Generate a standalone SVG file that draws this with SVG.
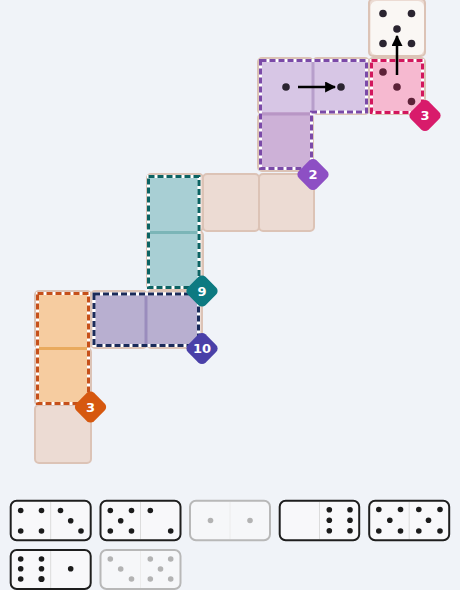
<svg xmlns="http://www.w3.org/2000/svg" width="460" height="590" viewBox="0 0 460 590">
<defs>
<style>
.cell{fill:#ecdbd3;stroke:#dcc3b6;stroke-width:2}
.wh{fill:none;stroke:#ffffff;stroke-width:3}
.pip{fill:#2a2430}
.tp{fill:#1c1c1c}
.fp{fill:#b3b3b3}
.dom{fill:#f8f8fa;stroke:#1e1e1e;stroke-width:2}
.fdom{fill:#f6f7f9;stroke:#b8b8b8;stroke-width:2}
.mid{stroke:#dcdcdc;stroke-width:1}
.badge text{font-family:"DejaVu Sans",Verdana,sans-serif;font-weight:bold;font-size:13px;fill:#ffffff;text-anchor:middle}
.arr{stroke:#000;stroke-width:2.5;fill:none}
.dash{fill:none;stroke-width:3;stroke-dasharray:6 3}
</style>
<marker id="ah" viewBox="0 0 10 10" refX="9" refY="5" markerWidth="4.4" markerHeight="4.4" orient="auto" markerUnits="strokeWidth">
<path d="M0,0 L10,5 L0,10 Z" fill="#000"/>
</marker>
</defs>
<rect width="460" height="590" fill="#f0f3f8"/>

<g id="board">
<rect class="cell" x="369" y="-1" width="56" height="57" rx="4"/>
<rect class="cell" x="258" y="58" width="55" height="56" rx="4"/>
<rect class="cell" x="313" y="58" width="56" height="56" rx="4"/>
<rect class="cell" x="369" y="58" width="56" height="56" rx="4"/>
<rect class="cell" x="258" y="114" width="55" height="57" rx="4"/>
<rect class="cell" x="147" y="174" width="56" height="57" rx="4"/>
<rect class="cell" x="203" y="174" width="56" height="57" rx="4"/>
<rect class="cell" x="259" y="174" width="55" height="57" rx="4"/>
<rect class="cell" x="147" y="231" width="56" height="58" rx="4"/>
<rect class="cell" x="35" y="291" width="56" height="57" rx="4"/>
<rect class="cell" x="91" y="291" width="56" height="57" rx="4"/>
<rect class="cell" x="147" y="291" width="55" height="57" rx="4"/>
<rect class="cell" x="35" y="348" width="56" height="57" rx="4"/>
<rect class="cell" x="35" y="405" width="56" height="58" rx="4"/>
</g>

<g id="top-cell">
<rect x="370.5" y="1" width="53.5" height="54" rx="6" fill="#faf7f4"/>
<circle class="pip" cx="383" cy="13.5" r="3.8"/>
<circle class="pip" cx="411.5" cy="13.5" r="3.8"/>
<circle class="pip" cx="397" cy="29" r="3.8"/>
<circle class="pip" cx="383" cy="43.5" r="3.8"/>
<circle class="pip" cx="411.5" cy="43.5" r="3.8"/>
</g>

<g id="region-purple">
<path d="M260.5,60.5 H366.5 V112 H311.5 V168.5 H260.5 Z" fill="#cdb1d7"/>
<rect x="261" y="61" width="105" height="51" fill="#d7c6e5"/>
<line x1="313" y1="61" x2="313" y2="112" stroke="#b79fcb" stroke-width="3"/>
<line x1="261" y1="114" x2="311" y2="114" stroke="#b896c5" stroke-width="3"/>
<path class="wh" d="M260.5,60.5 H366.5 V112 H311.5 V168.5 H260.5 Z"/>
<path class="dash" d="M260.5,60.5 H366.5 V112 H311.5 V168.5 H260.5 Z" stroke="#7b4aa8"/>
<circle class="pip" cx="286" cy="87" r="3.8"/>
<circle class="pip" cx="341" cy="87" r="3.8"/>
</g>

<g id="region-pink">
<rect x="371.5" y="60.5" width="51" height="52" fill="#f6b9d0"/>
<rect class="wh" x="371.5" y="60.5" width="51" height="52"/>
<rect class="dash" x="371.5" y="60.5" width="51" height="52" stroke="#d2175d"/>
<circle cx="383" cy="72" r="3.8" fill="#5c2238"/>
<circle cx="397" cy="87" r="3.8" fill="#5c2238"/>
<circle cx="411.5" cy="101.5" r="3.8" fill="#5c2238"/>
</g>

<g id="region-teal">
<rect x="148.5" y="176.5" width="50.5" height="111" fill="#a8cfd4"/>
<line x1="150" y1="232.5" x2="198" y2="232.5" stroke="#7bb5b7" stroke-width="3"/>
<rect class="wh" x="148.5" y="176.5" width="50.5" height="111"/>
<rect class="dash" x="148.5" y="176.5" width="50.5" height="111" stroke="#0c6363"/>
</g>

<g id="region-navy">
<rect x="94" y="294" width="104.5" height="51.5" fill="#b8afd0"/>
<line x1="146" y1="295" x2="146" y2="345" stroke="#9a8cbd" stroke-width="3"/>
<rect class="wh" x="94" y="294" width="104.5" height="51.5"/>
<rect class="dash" x="94" y="294" width="104.5" height="51.5" stroke="#1a2b5a"/>
</g>

<g id="region-orange">
<rect x="37.5" y="293.5" width="51" height="110" fill="#f6cca0"/>
<line x1="39" y1="348.5" x2="87" y2="348.5" stroke="#e9aa5e" stroke-width="3"/>
<rect class="wh" x="37.5" y="293.5" width="51" height="110"/>
<rect class="dash" x="37.5" y="293.5" width="51" height="110" stroke="#c6501a"/>
</g>

<g id="connectors">
<line class="arr" x1="298" y1="87" x2="335" y2="87" marker-end="url(#ah)"/>
<line class="arr" x1="397" y1="75" x2="397" y2="36" marker-end="url(#ah)"/>
</g>

<g id="badge-pink" class="badge">
<rect x="-12.5" y="-12.5" width="25" height="25" rx="5" fill="#d81b6b" transform="translate(425,115.5) rotate(45)"/>
<text x="425" y="120">3</text>
</g>
<g id="badge-purple" class="badge">
<rect x="-12.5" y="-12.5" width="25" height="25" rx="5" fill="#8d4fc4" transform="translate(313,174.5) rotate(45)"/>
<text x="313" y="179">2</text>
</g>
<g id="badge-teal" class="badge">
<rect x="-12.5" y="-12.5" width="25" height="25" rx="5" fill="#0d7a81" transform="translate(202,291) rotate(45)"/>
<text x="202" y="295.5">9</text>
</g>
<g id="badge-navy" class="badge">
<rect x="-12.5" y="-12.5" width="25" height="25" rx="5" fill="#4a40a8" transform="translate(202,348.5) rotate(45)"/>
<text x="202" y="353">10</text>
</g>
<g id="badge-orange" class="badge">
<rect x="-12.5" y="-12.5" width="25" height="25" rx="5" fill="#d6580f" transform="translate(90.5,407) rotate(45)"/>
<text x="90.5" y="411.5">3</text>
</g>

<g id="domino-4-3">
<rect class="dom" x="10.7" y="500.7" width="80" height="39.5" rx="6"/>
<line class="mid" x1="50.7" y1="502" x2="50.7" y2="539"/>
<circle class="tp" cx="20.7" cy="510.5" r="2.8"/><circle class="tp" cx="41.5" cy="510.5" r="2.8"/>
<circle class="tp" cx="20.7" cy="531" r="2.8"/><circle class="tp" cx="41.5" cy="531" r="2.8"/>
<circle class="tp" cx="60.5" cy="510.5" r="2.8"/><circle class="tp" cx="70.7" cy="520.7" r="2.8"/><circle class="tp" cx="81" cy="531" r="2.8"/>
</g>
<g id="domino-5-2">
<rect class="dom" x="100.5" y="500.7" width="80" height="39.5" rx="6"/>
<line class="mid" x1="140.5" y1="502" x2="140.5" y2="539"/>
<circle class="tp" cx="110.3" cy="510.5" r="2.8"/><circle class="tp" cx="131.5" cy="510.5" r="2.8"/>
<circle class="tp" cx="120.7" cy="520.7" r="2.8"/>
<circle class="tp" cx="110.3" cy="531" r="2.8"/><circle class="tp" cx="131.5" cy="531" r="2.8"/>
<circle class="tp" cx="150.3" cy="510.5" r="2.8"/><circle class="tp" cx="170.7" cy="531" r="2.8"/>
</g>
<g id="domino-1-1-used">
<rect class="fdom" x="190" y="500.7" width="80" height="39.5" rx="6"/>
<line x1="230" y1="502" x2="230" y2="539" stroke="#ececec" stroke-width="1"/>
<circle class="fp" cx="210.5" cy="520.5" r="2.8"/><circle class="fp" cx="250" cy="520.5" r="2.8"/>
</g>
<g id="domino-0-6">
<rect class="dom" x="279.7" y="500.7" width="79.5" height="39.5" rx="6"/>
<line class="mid" x1="319.5" y1="502" x2="319.5" y2="539"/>
<circle class="tp" cx="329.3" cy="509.8" r="2.8"/><circle class="tp" cx="350" cy="509.8" r="2.8"/>
<circle class="tp" cx="329.3" cy="520.3" r="2.8"/><circle class="tp" cx="350" cy="520.3" r="2.8"/>
<circle class="tp" cx="329.3" cy="530.8" r="2.8"/><circle class="tp" cx="350" cy="530.8" r="2.8"/>
</g>
<g id="domino-5-5">
<rect class="dom" x="369.2" y="500.7" width="80" height="39.5" rx="6"/>
<line class="mid" x1="409.2" y1="502" x2="409.2" y2="539"/>
<circle class="tp" cx="378.8" cy="509.5" r="2.8"/><circle class="tp" cx="400.5" cy="509.5" r="2.8"/>
<circle class="tp" cx="389.8" cy="520.3" r="2.8"/>
<circle class="tp" cx="378.8" cy="531" r="2.8"/><circle class="tp" cx="400.5" cy="531" r="2.8"/>
<circle class="tp" cx="418.8" cy="509.5" r="2.8"/><circle class="tp" cx="440" cy="509.5" r="2.8"/>
<circle class="tp" cx="428.5" cy="520.3" r="2.8"/>
<circle class="tp" cx="418.8" cy="531" r="2.8"/><circle class="tp" cx="440" cy="531" r="2.8"/>
</g>
<g id="domino-6-1">
<rect class="dom" x="10.7" y="550" width="80" height="39" rx="6"/>
<line class="mid" x1="50.7" y1="551" x2="50.7" y2="588"/>
<circle class="tp" cx="20.7" cy="559" r="2.8"/><circle class="tp" cx="41.5" cy="559" r="2.8"/>
<circle class="tp" cx="20.7" cy="568.8" r="2.8"/><circle class="tp" cx="41.5" cy="568.8" r="2.8"/>
<circle class="tp" cx="20.7" cy="579" r="2.8"/><circle class="tp" cx="41.5" cy="579" r="3.1"/>
<circle class="tp" cx="70.7" cy="568.8" r="2.8"/>
</g>
<g id="domino-3-5-used">
<rect class="fdom" x="100.5" y="550" width="80" height="39" rx="6"/>
<line x1="140.5" y1="551" x2="140.5" y2="588" stroke="#ececec" stroke-width="1"/>
<circle class="fp" cx="110.3" cy="559" r="2.8"/><circle class="fp" cx="120.7" cy="569" r="2.8"/><circle class="fp" cx="131.5" cy="579" r="2.8"/>
<circle class="fp" cx="150.3" cy="559" r="2.8"/><circle class="fp" cx="170.7" cy="559" r="2.8"/>
<circle class="fp" cx="160.5" cy="569" r="2.8"/>
<circle class="fp" cx="150.3" cy="579" r="2.8"/><circle class="fp" cx="170.7" cy="579" r="2.8"/>
</g>
</svg>
